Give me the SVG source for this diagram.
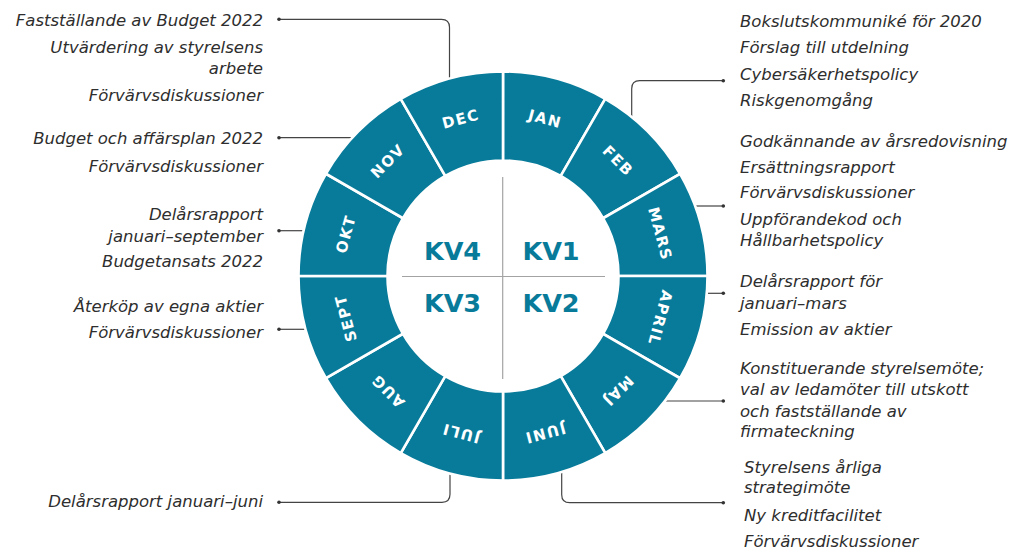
<svg xmlns="http://www.w3.org/2000/svg" xmlns:xlink="http://www.w3.org/1999/xlink" width="1016" height="549" viewBox="0 0 1016 549">
<style>
.seg{fill:#087b9a;stroke:#ffffff;stroke-width:2.6}
.mon{font-family:"DejaVu Sans",sans-serif;font-weight:bold;font-size:15px;fill:#ffffff;text-anchor:middle;letter-spacing:1.5px}
.kv{font-family:"DejaVu Sans",sans-serif;font-weight:bold;font-size:25.5px;fill:#087b9a;text-anchor:middle}
.t{font-family:"DejaVu Sans",sans-serif;font-style:italic;font-size:16.5px;fill:#2e2e2e}
.l{text-anchor:end}
.cx{fill:none;stroke:#444444;stroke-width:1.2}
.dot{fill:#333333}
.cross{stroke:#a3a3a3;stroke-width:1.2}
</style>
<defs>
<path id="seg" d="M503,71.5 A204.5,204.5 0 0 1 605.25,98.9 L560.75,175.97 A115.5,115.5 0 0 0 503,160.5 Z"/>
</defs>
<g id="connectors">
<path class="cx" d="M279,19.3 H441.5 Q449.5,19.3 449.5,27.3 V78"/>
<path class="cx" d="M279,137.7 H352"/>
<path class="cx" d="M279,230.7 H303"/>
<path class="cx" d="M279,329.3 H305"/>
<path class="cx" d="M279,502.3 H442 Q450,502.3 450,494.3 V474"/>
<path class="cx" d="M723.3,80.7 H639.7 Q631.7,80.7 631.7,88.7 V117"/>
<path class="cx" d="M695,206 H723.3"/>
<path class="cx" d="M706.5,293.3 H723.3"/>
<path class="cx" d="M665,401 H723.3"/>
<path class="cx" d="M561.7,472 V494.7 Q561.7,502.7 569.7,502.7 H723.3"/>
<circle class="dot" cx="279" cy="19.3" r="1.8"/>
<circle class="dot" cx="279" cy="137.7" r="1.8"/>
<circle class="dot" cx="279" cy="230.7" r="1.8"/>
<circle class="dot" cx="279" cy="329.3" r="1.8"/>
<circle class="dot" cx="279" cy="502.3" r="1.8"/>
<circle class="dot" cx="723.3" cy="80.7" r="1.8"/>
<circle class="dot" cx="723.3" cy="206" r="1.8"/>
<circle class="dot" cx="723.3" cy="293.3" r="1.8"/>
<circle class="dot" cx="723.3" cy="401" r="1.8"/>
<circle class="dot" cx="723.3" cy="502.7" r="1.8"/>
</g>
<g id="jan"><use xlink:href="#seg" class="seg"/><text class="mon" x="503" y="118.5" transform="rotate(15 503 276)">JAN</text></g>
<g id="feb"><use xlink:href="#seg" class="seg" transform="rotate(30 503 276)"/><text class="mon" x="503" y="118.5" transform="rotate(45 503 276)">FEB</text></g>
<g id="mars"><use xlink:href="#seg" class="seg" transform="rotate(60 503 276)"/><text class="mon" x="503" y="118.5" transform="rotate(75 503 276)">MARS</text></g>
<g id="april"><use xlink:href="#seg" class="seg" transform="rotate(90 503 276)"/><text class="mon" x="503" y="118.5" transform="rotate(105 503 276)">APRIL</text></g>
<g id="maj"><use xlink:href="#seg" class="seg" transform="rotate(120 503 276)"/><text class="mon" x="503" y="118.5" transform="rotate(135 503 276)">MAJ</text></g>
<g id="juni"><use xlink:href="#seg" class="seg" transform="rotate(150 503 276)"/><text class="mon" x="503" y="118.5" transform="rotate(165 503 276)">JUNI</text></g>
<g id="juli"><use xlink:href="#seg" class="seg" transform="rotate(180 503 276)"/><text class="mon" x="503" y="118.5" transform="rotate(195 503 276)">JULI</text></g>
<g id="aug"><use xlink:href="#seg" class="seg" transform="rotate(210 503 276)"/><text class="mon" x="503" y="118.5" transform="rotate(225 503 276)">AUG</text></g>
<g id="sept"><use xlink:href="#seg" class="seg" transform="rotate(240 503 276)"/><text class="mon" x="503" y="118.5" transform="rotate(255 503 276)">SEPT</text></g>
<g id="okt"><use xlink:href="#seg" class="seg" transform="rotate(270 503 276)"/><text class="mon" x="503" y="118.5" transform="rotate(285 503 276)">OKT</text></g>
<g id="nov"><use xlink:href="#seg" class="seg" transform="rotate(300 503 276)"/><text class="mon" x="503" y="118.5" transform="rotate(315 503 276)">NOV</text></g>
<g id="dec"><use xlink:href="#seg" class="seg" transform="rotate(330 503 276)"/><text class="mon" x="503" y="118.5" transform="rotate(345 503 276)">DEC</text></g>
<g id="center">
<line class="cross" x1="402" y1="276.5" x2="605" y2="276.5"/>
<line class="cross" x1="502.7" y1="177" x2="502.7" y2="379"/>
<text class="kv" x="452.5" y="259.5">KV4</text>
<text class="kv" x="551" y="259.5">KV1</text>
<text class="kv" x="452.5" y="312">KV3</text>
<text class="kv" x="551" y="312">KV2</text>
</g>
<g id="text-dec">
<text class="t l" x="263" y="26">Fastställande av Budget 2022</text>
<text class="t l" x="263" y="53">Utvärdering av styrelsens</text>
<text class="t l" x="263" y="74">arbete</text>
<text class="t l" x="263" y="101">Förvärvsdiskussioner</text>
</g>
<g id="text-nov">
<text class="t l" x="263" y="144">Budget och affärsplan 2022</text>
<text class="t l" x="263" y="171.5">Förvärvsdiskussioner</text>
</g>
<g id="text-okt">
<text class="t l" x="263" y="220">Delårsrapport</text>
<text class="t l" x="263" y="242.3">januari–september</text>
<text class="t l" x="263" y="267.3">Budgetansats 2022</text>
</g>
<g id="text-sept">
<text class="t l" x="263" y="311.7">Återköp av egna aktier</text>
<text class="t l" x="263" y="338">Förvärvsdiskussioner</text>
</g>
<g id="text-juli">
<text class="t l" x="263" y="506.7">Delårsrapport januari–juni</text>
</g>
<g id="text-janfeb">
<text class="t" x="740" y="26.7">Bokslutskommuniké för 2020</text>
<text class="t" x="740" y="53.3">Förslag till utdelning</text>
<text class="t" x="740" y="80">Cybersäkerhetspolicy</text>
<text class="t" x="740" y="106">Riskgenomgång</text>
</g>
<g id="text-mars">
<text class="t" x="740" y="146.7">Godkännande av årsredovisning</text>
<text class="t" x="740" y="172.7">Ersättningsrapport</text>
<text class="t" x="740" y="198.3">Förvärvsdiskussioner</text>
<text class="t" x="740" y="225">Uppförandekod och</text>
<text class="t" x="740" y="246">Hållbarhetspolicy</text>
</g>
<g id="text-april">
<text class="t" x="740" y="287.3">Delårsrapport för</text>
<text class="t" x="740" y="309">januari–mars</text>
<text class="t" x="740" y="335">Emission av aktier</text>
</g>
<g id="text-maj">
<text class="t" x="740" y="374">Konstituerande styrelsemöte;</text>
<text class="t" x="740" y="395">val av ledamöter till utskott</text>
<text class="t" x="740" y="416.7">och fastställande av</text>
<text class="t" x="740" y="437.3">firmateckning</text>
</g>
<g id="text-juni">
<text class="t" x="744" y="473.3">Styrelsens årliga</text>
<text class="t" x="744" y="493.3">strategimöte</text>
<text class="t" x="744" y="520.7">Ny kreditfacilitet</text>
<text class="t" x="744" y="546.7">Förvärvsdiskussioner</text>
</g>
</svg>
